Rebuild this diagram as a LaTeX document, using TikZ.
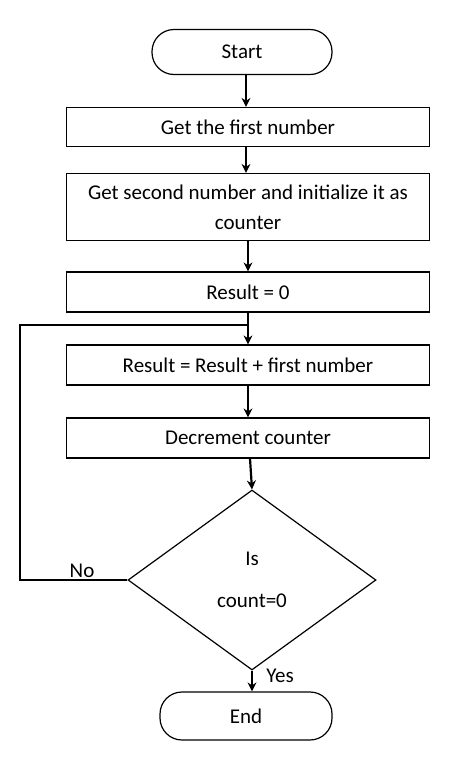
\documentclass[tikz,border=0pt]{standalone}
\usepackage{fontspec}
\setmainfont{Carlito}
\usetikzlibrary{arrows.meta,shapes.geometric}
\begin{document}
\begin{tikzpicture}[x=1pt,y=-1pt,
 txt/.style={font=\fontsize{21}{30}\selectfont},
 box/.style={draw,line width=1.2pt,minimum width=363pt,inner sep=0pt,txt,align=center},
 term/.style={draw,line width=1.2pt,rounded corners=22pt,minimum width=180pt,minimum height=45pt,txt},
 arr/.style={line width=2.2pt,-{Stealth[length=9pt,width=9pt]}}]
\useasboundingbox (0,0) rectangle (474,763);
\node[term] (s) at (242,52) {Start};
\node[box,minimum height=39pt] (b1) at (248,127) {Get the first number};
\node[box,minimum height=67pt] (b2) at (248,207) {Get second number and initialize it as\\counter};
\node[box,minimum height=40pt] (b3) at (248,292) {Result = 0};
\node[box,minimum height=40pt] (b4) at (248,365) {Result = Result + first number};
\node[box,minimum height=40pt] (b5) at (248,438) {Decrement counter};
\node[draw,line width=1.2pt,diamond,minimum width=248pt,minimum height=180pt,inner sep=0pt,aspect=1.38,txt,align=center] (d) at (252,580) {Is\\[12pt]count=0};
\node[term,minimum width=172pt,minimum height=48pt] (e) at (246,716) {End};
\draw[arr] (s.south -| 246,0) -- (b1.north -| 246,0);
\draw[arr] (b1.south -| 246,0) -- (b2.north -| 246,0);
\draw[arr] (b2.south -| 248,0) -- (b3.north -| 248,0);
\draw[arr] (b3.south -| 248,0) -- (b4.north -| 248,0);
\draw[arr] (b4.south -| 248,0) -- (b5.north -| 248,0);
\draw[arr] (b5.south -| 250,0) -- (d.north);
\draw[arr] (d.south) -- (e.north -| d.south);
\coordinate (j) at (248,325);
\draw[line width=2.2pt] (d.west) -- (20,580) -- (20,325) -- (j);
\node[txt] (no) at (82,571) {No};
\node[txt] (yes) at (280,676) {Yes};
\end{tikzpicture}
\end{document}
